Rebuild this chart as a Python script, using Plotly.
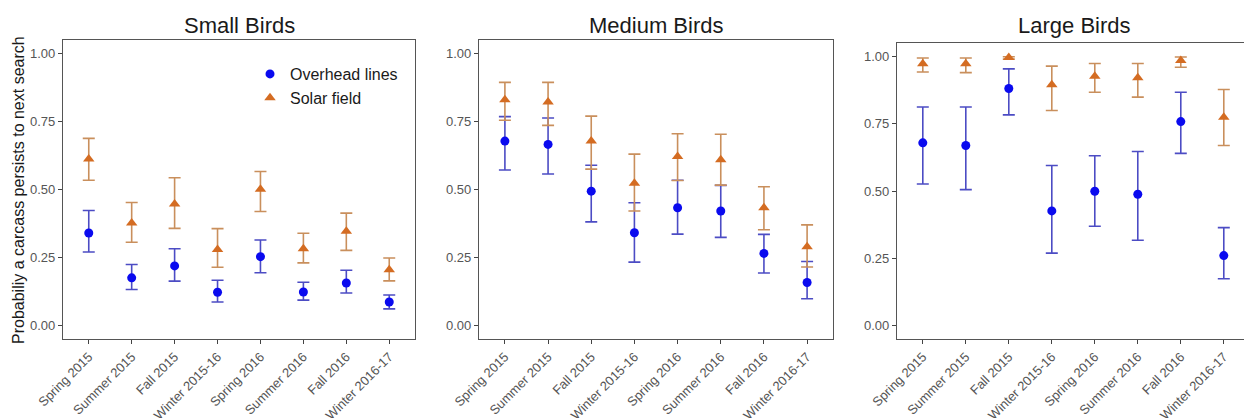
import plotly.graph_objects as go

W, H = 1244, 418

seasons = ["Spring 2015", "Summer 2015", "Fall 2015", "Winter 2015-16",
           "Spring 2016", "Summer 2016", "Fall 2016", "Winter 2016-17"]
panel_titles = ["Small Birds", "Medium Birds", "Large Birds"]
series_names = ["Overhead lines", "Solar field"]
y_ticks = [0.0, 0.25, 0.5, 0.75, 1.0]
y_label = "Probabiliy a carcass persists to next search"

# Small birds
small_lines = [0.340, 0.175, 0.219, 0.122, 0.253, 0.123, 0.156, 0.086]
small_lines_hi = [0.423, 0.224, 0.282, 0.166, 0.314, 0.159, 0.203, 0.112]
small_lines_lo = [0.270, 0.132, 0.163, 0.086, 0.194, 0.093, 0.119, 0.061]
small_solar = [0.612, 0.377, 0.447, 0.279, 0.501, 0.282, 0.346, 0.205]
small_solar_hi = [0.688, 0.452, 0.543, 0.356, 0.566, 0.339, 0.413, 0.248]
small_solar_lo = [0.534, 0.306, 0.357, 0.214, 0.419, 0.230, 0.276, 0.164]

# Medium birds
medium_lines = [0.678, 0.666, 0.494, 0.341, 0.433, 0.421, 0.265, 0.158]
medium_lines_hi = [0.768, 0.763, 0.589, 0.451, 0.534, 0.515, 0.335, 0.235]
medium_lines_lo = [0.572, 0.557, 0.381, 0.233, 0.336, 0.324, 0.193, 0.098]
medium_solar = [0.830, 0.822, 0.678, 0.523, 0.621, 0.609, 0.433, 0.289]
medium_solar_hi = [0.894, 0.894, 0.770, 0.630, 0.705, 0.703, 0.510, 0.370]
medium_solar_lo = [0.755, 0.736, 0.575, 0.421, 0.533, 0.516, 0.352, 0.215]

# Large birds
large_lines = [0.679, 0.669, 0.881, 0.426, 0.499, 0.488, 0.758, 0.260]
large_lines_hi = [0.812, 0.812, 0.954, 0.595, 0.631, 0.647, 0.867, 0.364]
large_lines_lo = [0.526, 0.505, 0.783, 0.269, 0.369, 0.317, 0.640, 0.174]
large_solar = [0.973, 0.973, 0.996, 0.895, 0.926, 0.921, 0.985, 0.774]
large_solar_hi = [0.994, 0.994, 0.999, 0.964, 0.974, 0.974, 0.998, 0.877]
large_solar_lo = [0.942, 0.940, 0.990, 0.799, 0.867, 0.849, 0.960, 0.669]

panels = [
    (small_lines, small_lines_hi, small_lines_lo, small_solar, small_solar_hi, small_solar_lo),
    (medium_lines, medium_lines_hi, medium_lines_lo, medium_solar, medium_solar_hi, medium_solar_lo),
    (large_lines, large_lines_hi, large_lines_lo, large_solar, large_solar_hi, large_solar_lo),
]

FONT = "Liberation Sans, Arial, Helvetica, sans-serif"
BLUE = "#0a0aef"
BLUE_ERR = "#4c4cc4"
ORANGE = "#d46c22"
ORANGE_ERR = "#c98f5c"

# pixel layout of the panels: (left, right, top, bottom)
boxes = [(63, 415, 40, 339), (479, 833, 40, 339), (897, 1244, 43, 339)]
xranges = [[-0.6, 7.6], [-0.6, 7.6], [-0.6, 7.47]]
title_centers = [239, 656, 1074]

fig = go.Figure()

for i, (bl, blh, bll, so, soh, sol) in enumerate(panels):
    ax = "" if i == 0 else str(i + 1)
    idx = list(range(len(seasons)))
    fig.add_trace(go.Scatter(
        x=idx, y=bl, mode="markers", name=series_names[0],
        legendgroup="lines", showlegend=(i == 0),
        marker=dict(symbol="circle", size=9, color=BLUE),
        error_y=dict(type="data", symmetric=False,
                     array=[h - v for h, v in zip(blh, bl)],
                     arrayminus=[v - l for v, l in zip(bl, bll)],
                     color=BLUE_ERR, thickness=1.6, width=6),
        xaxis="x" + ax, yaxis="y" + ax, cliponaxis=False,
    ))
    fig.add_trace(go.Scatter(
        x=idx, y=so, mode="markers", name=series_names[1],
        legendgroup="solar", showlegend=(i == 0),
        marker=dict(symbol="triangle-up", size=10, color=ORANGE),
        error_y=dict(type="data", symmetric=False,
                     array=[h - v for h, v in zip(soh, so)],
                     arrayminus=[v - l for v, l in zip(so, sol)],
                     color=ORANGE_ERR, thickness=1.6, width=6),
        xaxis="x" + ax, yaxis="y" + ax, cliponaxis=False,
    ))

layout = dict(
    width=W, height=H,
    margin=dict(l=0, r=0, t=0, b=0, autoexpand=False),
    paper_bgcolor="white", plot_bgcolor="white",
    font=dict(family=FONT, color="#333333"),
    showlegend=True,
    legend=dict(x=250 / W, y=1 - 57 / H, xanchor="left", yanchor="top",
                bgcolor="rgba(0,0,0,0)", font=dict(size=16, color="#1a1a1a"),
                itemwidth=30, tracegroupgap=0),
)

annotations = []
for i, (l, r, t, b) in enumerate(boxes):
    ax = "" if i == 0 else str(i + 1)
    layout["xaxis" + ax] = dict(
        domain=[l / W, r / W], range=xranges[i], anchor="y" + ax,
        tickmode="array", tickvals=list(range(len(seasons))), ticktext=seasons,
        tickangle=-45, tickfont=dict(size=13, color="#555555", family=FONT),
        ticks="outside", ticklen=4, tickcolor="#444444",
        showline=True, linecolor="#555555", linewidth=1.2, mirror=True,
        showgrid=False, zeroline=False, fixedrange=True, automargin=False,
    )
    layout["yaxis" + ax] = dict(
        domain=[1 - b / H, 1 - t / H], range=[-0.05, 1.05], anchor="x" + ax,
        tickmode="array", tickvals=y_ticks, tickformat=".2f",
        tickfont=dict(size=13, color="#555555", family=FONT),
        ticks="outside", ticklen=4, tickcolor="#444444",
        showline=True, linecolor="#555555", linewidth=1.2, mirror=(i < 2),
        showgrid=False, zeroline=False, fixedrange=True, automargin=False,
    )
    annotations.append(dict(
        text=panel_titles[i], x=title_centers[i] / W, y=1 - 25 / H,
        xref="paper", yref="paper", xanchor="center", yanchor="middle",
        showarrow=False, font=dict(size=22, color="#1a1a1a", family=FONT),
    ))

annotations.append(dict(
    text=y_label, x=18 / W, y=1 - 190 / H, xref="paper", yref="paper",
    xanchor="center", yanchor="middle", textangle=-90, showarrow=False,
    font=dict(size=16, color="#1a1a1a", family=FONT),
))
layout["annotations"] = annotations

fig.update_layout(**layout)
fig.write_html(
    "out.html",
    config={"displayModeBar": False},
    post_script="document.body.style.margin='0px';document.body.style.overflow='hidden';",
)
